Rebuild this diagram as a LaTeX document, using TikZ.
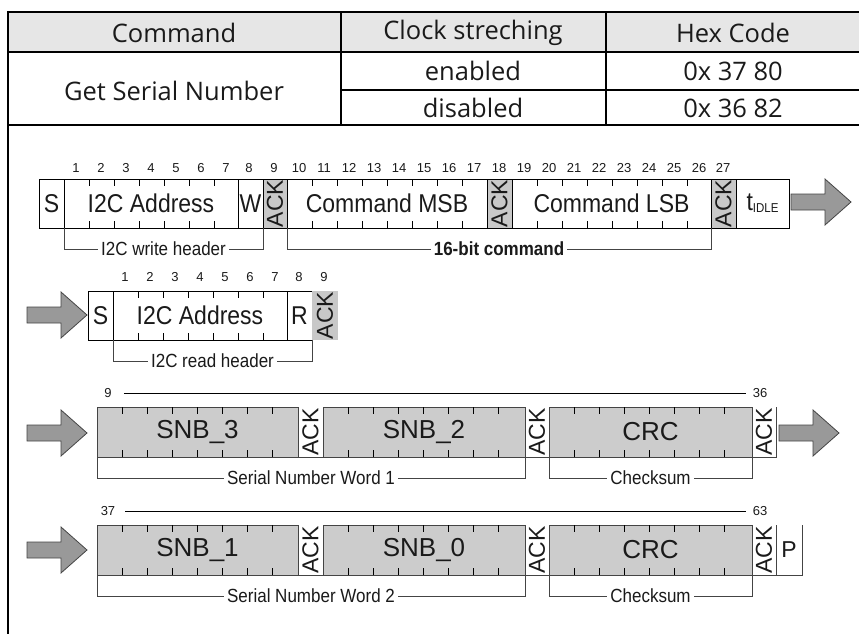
\documentclass[tikz,border=0pt]{standalone}
\usepackage{fontspec}
\setmainfont{Liberation Sans}
\newfontfamily\tabfont{Open Sans}
\definecolor{ackgray}{HTML}{C8C8C8}
\definecolor{datagray}{HTML}{CCCCCC}
\definecolor{hdrgray}{HTML}{E6E6E6}
\definecolor{arrgray}{HTML}{999999}
\definecolor{lnk}{HTML}{444444}
\definecolor{txt}{HTML}{1A1A1A}
\newcommand{\stretchy}[1]{\scalebox{1}[1.12]{#1}}
\tikzset{
  tline/.style={line width=2pt, black},
  ttext/.style={font=\tabfont\fontsize{25.5}{30}\selectfont, text=txt, inner sep=0pt},
  fld/.style={draw=black, line width=0.8pt, minimum height=49pt, inner sep=0pt, outer sep=0pt,
              anchor=north west, font=\fontsize{23}{27}\selectfont, text=txt},
  dfld/.style={fld, minimum height=50pt, fill=datagray, draw=lnk, font=\fontsize{26}{30}\selectfont},
  wack/.style={minimum height=50pt, inner sep=0pt, outer sep=0pt, anchor=north west,
              font=\fontsize{23}{27}\selectfont, text=txt},
  tick/.style={line width=0.8pt, black},
  num/.style={font=\fontsize{13}{15}\selectfont, text=txt, inner sep=1pt},
  brk/.style={line width=0.9pt, lnk},
  blabel/.style={font=\fontsize{17}{20}\selectfont, fill=white, text=txt, inner sep=3pt},
  bigarrow/.pic={\draw[fill=arrgray, draw=lnk, line width=0.8pt]
     (0,-8) -- (34,-8) -- (34,-23) -- (60,0) -- (34,23) -- (34,8) -- (0,8) -- cycle;}
}
\begin{document}
\begin{tikzpicture}[x=1pt,y=-1pt]
\useasboundingbox (0,0) rectangle (859,634);
% ---------- table ----------
\fill[hdrgray] (8,12) rectangle (861,52);
\draw[tline] (8,12) -- (861,12);
\draw[tline] (8,52) -- (861,52);
\draw[tline] (341,90) -- (861,90);
\draw[tline] (8,125) -- (861,125);
\draw[tline] (8,11) -- (8,634);
\draw[tline] (341,12) -- (341,125);
\draw[tline] (606,12) -- (606,125);
\draw[tline] (861,12) -- (861,125);
\node[ttext] (hcmd) at (174,33) {Command};
\node[ttext] (hclk) at (473,33) {Clock streching};
\node[ttext] (hhex) at (733,33) {Hex Code};
\node[ttext] (gsn) at (174,91) {Get Serial Number};
\node[ttext] (en) at (473,71) {enabled};
\node[ttext] (dis) at (473,108) {disabled};
\node[ttext] (h1) at (733,71) {0x 37 80};
\node[ttext] (h2) at (733,108) {0x 36 82};
% ---------- row 1: write ----------
\node[fld, minimum width=25pt] (s1) at (39,179) {\stretchy{S}};
\node[fld, minimum width=174pt] (addr1) at (64,179) {\stretchy{I2C Address}};
\node[fld, minimum width=25pt] (w1) at (238,179) {\stretchy{W}};
\node[fld, minimum width=24pt, fill=ackgray] (ack1) at (263,179) {\rotatebox{90}{ACK}};
\node[fld, minimum width=200pt] (msb) at (287,179) {\stretchy{Command MSB}};
\node[fld, minimum width=25pt, fill=ackgray] (ack2) at (487,179) {\rotatebox{90}{ACK}};
\node[fld, minimum width=199pt] (lsb) at (512,179) {\stretchy{Command LSB}};
\node[fld, minimum width=25pt, fill=ackgray] (ack3) at (711,179) {\rotatebox{90}{ACK}};
\node[fld, minimum width=53pt] (idle) at (736,179) {\stretchy{t\raisebox{-1.5pt}{\fontsize{11.5}{12}\selectfont IDLE}}};
\pic at (791,202) {bigarrow};
\foreach \i in {1,...,7} { \node[num] (a\i) at (51+25*\i,168) {\i}; }
\node[num] (a8) at (249,168) {8};
\node[num] (a9) at (274,168) {9};
\foreach \i in {10,...,17} { \node[num] (b\i) at (299+25*\i-250,168) {\i}; }
\node[num] (b18) at (499,168) {18};
\foreach \i in {19,...,26} { \node[num] (c\i) at (524+25*\i-475,168) {\i}; }
\node[num] (c27) at (723,168) {27};
\draw[brk] (addr1.south west) -- ++(0,21) -| node[blabel, pos=0.25] {\stretchy{I2C write header}} (ack1.south west);
\draw[brk] (msb.south west) -- ++(0,21) -| node[blabel, pos=0.25, font=\bfseries\fontsize{17}{20}\selectfont] {\stretchy{16-bit command}} (lsb.south east);
% ---------- row 2: read ----------
\pic at (27,315) {bigarrow};
\node[fld, minimum width=25pt] (s2) at (88,291) {\stretchy{S}};
\node[fld, minimum width=174pt] (addr2) at (113,291) {\stretchy{I2C Address}};
\node[fld, minimum width=25pt] (r2) at (287,291) {\stretchy{R}};
\node[fld, draw=none, minimum width=26pt, fill=ackgray] (ack4) at (312,291) {\rotatebox{90}{ACK}};
\foreach \i in {1,...,7} { \node[num] (d\i) at (100+25*\i,277) {\i}; }
\node[num] (d8) at (299,277) {8};
\node[num] (d9) at (324,277) {9};
\draw[brk] (addr2.south west) -- ++(0,21) -| node[blabel, pos=0.25] {\stretchy{I2C read header}} (ack4.south west);
% ---------- row 3: word 1 ----------
\node[num] (l9) at (108,393) {9};
\node[num] (l36) at (760,393) {36};
\draw[line width=0.9pt, black] ([xshift=11]l9.east) -- ([xshift=-6]l36.west);
\pic at (27,433) {bigarrow};
\node[dfld, minimum width=201pt] (snb3) at (97,407) {SNB\_3};
\node[wack, minimum width=25pt] (ackA) at (298,407) {\rotatebox{90}{ACK}};
\node[dfld, minimum width=202pt] (snb2) at (323,407) {SNB\_2};
\node[wack, minimum width=24pt] (ackB) at (525,407) {\rotatebox{90}{ACK}};
\node[dfld, minimum width=203pt] (crc1) at (549,407) {CRC};
\node[wack, minimum width=24pt] (ackC) at (752,407) {\rotatebox{90}{ACK}};
\draw[brk] (snb3.south west) -- (ackC.south east) -- (ackC.north east);
\pic at (779,433) {bigarrow};
\draw[brk] (snb3.south west) -- ++(0,21) -| node[blabel, pos=0.25] {\stretchy{Serial Number Word 1}} (snb2.south east);
\draw[brk] (crc1.south west) -- ++(0,21) -| node[blabel, pos=0.25] {\stretchy{Checksum}} (crc1.south east);
% ---------- row 4: word 2 ----------
\node[num] (l37) at (108,511) {37};
\node[num] (l63) at (760,511) {63};
\draw[line width=0.9pt, black] ([xshift=9]l37.east) -- ([xshift=-6]l63.west);
\pic at (27,550) {bigarrow};
\node[dfld, minimum width=201pt] (snb1) at (97,525) {SNB\_1};
\node[wack, minimum width=25pt] (ackD) at (298,525) {\rotatebox{90}{ACK}};
\node[dfld, minimum width=202pt] (snb0) at (323,525) {SNB\_0};
\node[wack, minimum width=24pt] (ackE) at (525,525) {\rotatebox{90}{ACK}};
\node[dfld, minimum width=203pt] (crc2) at (549,525) {CRC};
\node[wack, minimum width=24pt] (ackF) at (752,525) {\rotatebox{90}{ACK}};
\node[wack, minimum width=26pt] (p4) at (776,525) {P};
\draw[brk] (snb1.south west) -- (p4.south east) -- (p4.north east);
\draw[brk] (ackF.south east) -- (ackF.north east);
\draw[brk] (snb1.south west) -- ++(0,21) -| node[blabel, pos=0.25] {\stretchy{Serial Number Word 2}} (snb0.south east);
\draw[brk] (crc2.south west) -- ++(0,21) -| node[blabel, pos=0.25] {\stretchy{Checksum}} (crc2.south east);
% ---------- ticks ----------
\foreach \n/\c in {addr1/6, msb/7, lsb/7, addr2/6, snb3/7, snb2/7, crc1/7, snb1/7, snb0/7, crc2/7} {
  \foreach \k in {1,...,\c} {
    \draw[tick] ([xshift=25*\k]\n.north west) -- ++(0,7);
    \draw[tick] ([xshift=25*\k]\n.south west) -- ++(0,-7);
  }
}
\end{tikzpicture}
\end{document}
